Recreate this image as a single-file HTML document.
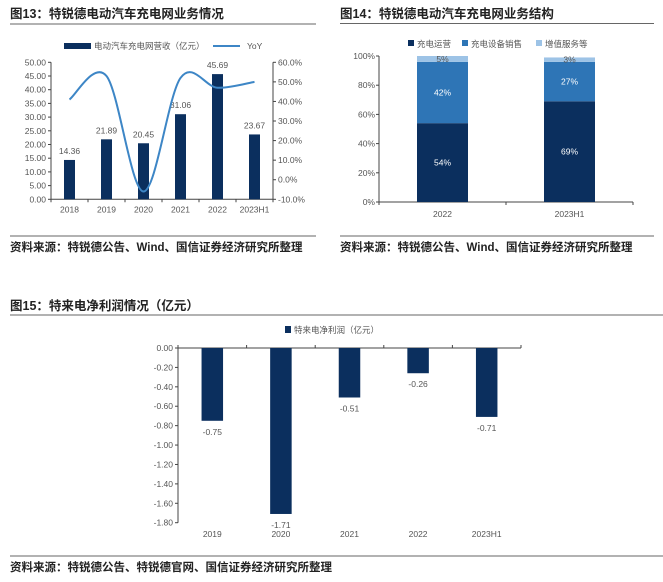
<!DOCTYPE html>
<html><head><meta charset="utf-8"><style>
body{margin:0;width:663px;height:582px;background:#fff;overflow:hidden}
svg{display:block;font-family:"Liberation Sans","Noto Sans CJK SC",sans-serif}
.t{font-weight:bold;font-size:12.5px;fill:#222}
.s{font-weight:bold;font-size:11.5px;fill:#222}
.ax{font-size:8.5px;fill:#555}
</style></head><body>
<svg width="663" height="582">
<g id="c1"></g>
<g id="c2"></g>
<g id="c3"></g>
</svg>
<script>
const NS="http://www.w3.org/2000/svg";
function mk(p,tag,a,txt){const e=document.createElementNS(NS,tag);for(const k in a)e.setAttribute(k,a[k]);if(txt!==undefined)e.textContent=txt;p.appendChild(e);return e;}
// Chart 1 data
const c1Cats=["2018","2019","2020","2021","2022","2023H1"];
const c1Rev=[14.36,21.89,20.45,31.06,45.69,23.67];
const c1Yoy=[41,53,-6,52,47,50];
const c1LeftTicks=["0.00","5.00","10.00","15.00","20.00","25.00","30.00","35.00","40.00","45.00","50.00"];
const c1RightTicks=["-10.0%","0.0%","10.0%","20.0%","30.0%","40.0%","50.0%","60.0%"];
// Chart 2 data
const c2Cats=["2022","2023H1"];
const c2Ops=[54,69];
const c2Equip=[42,27];
const c2Svc=[5,3];
const c2Ticks=["0%","20%","40%","60%","80%","100%"];
// Chart 3 data
const c3Cats=["2019","2020","2021","2022","2023H1"];
const c3Vals=[-0.75,-1.71,-0.51,-0.26,-0.71];
const c3Ticks=["0.00","-0.20","-0.40","-0.60","-0.80","-1.00","-1.20","-1.40","-1.60","-1.80"];
const NAVY="#0b2f5e";

// ---------- Chart 1
(function(){
const g=document.getElementById('c1');
let e=mk(g,'text',{x:10,y:18,class:'t'},'图13：特锐德电动汽车充电网业务情况');

mk(g,'line',{x1:10,y1:24,x2:316,y2:24,stroke:'#666','stroke-width':1});
mk(g,'rect',{x:64,y:43,width:27,height:6,fill:NAVY});
mk(g,'text',{x:94,y:49,class:'ax'},'电动汽车充电网营收（亿元）');
mk(g,'line',{x1:213,y1:46,x2:240,y2:46,stroke:'#3d86c6','stroke-width':2});
mk(g,'text',{x:247,y:49,class:'ax'},'YoY');
const L=51,R=273,T=62.3,B=199.3;
const y=v=>B-(v/50)*(B-T);
const yr=v=>B-((v+10)/70)*(B-T);
const step=(R-L)/c1Cats.length;
const x=i=>L+step*(i+0.5);
mk(g,'line',{x1:L,y1:T,x2:L,y2:B,stroke:'#444'});
mk(g,'line',{x1:R,y1:T,x2:R,y2:B,stroke:'#444'});
mk(g,'line',{x1:L,y1:B,x2:R,y2:B,stroke:'#444'});
c1LeftTicks.forEach((t,i)=>{const yy=y(i*5);mk(g,'line',{x1:L-3,y1:yy,x2:L,y2:yy,stroke:'#444'});mk(g,'text',{x:L-5,y:yy+3,class:'ax','text-anchor':'end'},t);});
c1RightTicks.forEach((t,i)=>{const yy=yr(-10+i*10);mk(g,'line',{x1:R,y1:yy,x2:R+3,y2:yy,stroke:'#444'});mk(g,'text',{x:R+5,y:yy+3,class:'ax'},t);});
for(let i=0;i<=c1Cats.length;i++){mk(g,'line',{x1:L+step*i,y1:B,x2:L+step*i,y2:B+3,stroke:'#444'});}
c1Cats.forEach((c,i)=>{
 const b=mk(g,'rect',{x:x(i)-5.5,y:y(c1Rev[i]),width:11,height:B-y(c1Rev[i]),fill:NAVY});
 
 mk(g,'text',{x:x(i),y:y(c1Rev[i])-6,class:'ax','text-anchor':'middle','font-size':'9.5'},c1Rev[i].toFixed(2));
 mk(g,'text',{x:x(i),y:B+13,class:'ax','text-anchor':'middle'},c);
});
let d='';const pts=c1Yoy.map((v,i)=>[x(i),yr(v)]);
d='M'+pts[0];
for(let i=0;i<pts.length-1;i++){const p0=pts[Math.max(0,i-1)],p1=pts[i],p2=pts[i+1],p3=pts[Math.min(pts.length-1,i+2)];
 const c1=[p1[0]+(p2[0]-p0[0])/6,p1[1]+(p2[1]-p0[1])/6],c2=[p2[0]-(p3[0]-p1[0])/6,p2[1]-(p3[1]-p1[1])/6];
 d+=' C'+c1+' '+c2+' '+p2;}
const ln=mk(g,'path',{d:d,fill:'none',stroke:'#3d86c6','stroke-width':2});

mk(g,'line',{x1:10,y1:236,x2:316,y2:236,stroke:'#666'});
mk(g,'text',{x:10,y:251,class:'s'},'资料来源：特锐德公告、Wind、国信证券经济研究所整理');
})();

// ---------- Chart 2
(function(){
const g=document.getElementById('c2');
let e=mk(g,'text',{x:340,y:18,class:'t'},'图14：特锐德电动汽车充电网业务结构');

mk(g,'line',{x1:340,y1:23.5,x2:654,y2:23.5,stroke:'#666'});
const cols=[NAVY,"#2e75b6","#9dc3e6"],names=["充电运营","充电设备销售","增值服务等"];
let lx=408;names.forEach((n,i)=>{mk(g,'rect',{x:lx,y:40,width:6,height:6,fill:cols[i]});mk(g,'text',{x:lx+9,y:47,class:'ax','font-size':'9.5'},n);lx+=n.length*10+14;});
const L=379,R=633,T=56,B=202;const y=v=>B-v/100*(B-T);
mk(g,'line',{x1:L,y1:T,x2:L,y2:B,stroke:'#444'});mk(g,'line',{x1:L,y1:B,x2:R,y2:B,stroke:'#444'});
c2Ticks.forEach((t,i)=>{const yy=y(i*20);mk(g,'line',{x1:L-3,y1:yy,x2:L,y2:yy,stroke:'#444'});mk(g,'text',{x:L-4,y:yy+3,class:'ax','text-anchor':'end'},t);});
const step=(R-L)/c2Cats.length;
for(let i=0;i<=c2Cats.length;i++)mk(g,'line',{x1:L+step*i,y1:B,x2:L+step*i,y2:B+3,stroke:'#444'});
c2Cats.forEach((c,i)=>{
 const cx=L+step*(i+0.5);let acc=0;
 [c2Ops[i],c2Equip[i],c2Svc[i]].forEach((v,k)=>{
  const top=Math.min(100,acc+v);
  const r=mk(g,'rect',{x:cx-25.5,y:y(top),width:51,height:y(acc)-y(top),fill:cols[k]});
  
  mk(g,'text',{x:cx,y:(y(acc)+y(top))/2+3,class:'ax','text-anchor':'middle',fill:k==2?'#444':'#fff',style:k==2?'':'fill:#fff'},v+'%');
  acc=top;});
 mk(g,'text',{x:cx,y:B+15,class:'ax','text-anchor':'middle'},c);
});
mk(g,'line',{x1:340,y1:236,x2:654,y2:236,stroke:'#666'});
mk(g,'text',{x:340,y:251,class:'s'},'资料来源：特锐德公告、Wind、国信证券经济研究所整理');
})();

// ---------- Chart 3
(function(){
const g=document.getElementById('c3');
let e=mk(g,'text',{x:10,y:310,class:'t'},'图15：特来电净利润情况（亿元）');

mk(g,'line',{x1:10,y1:315,x2:663,y2:315,stroke:'#666'});
mk(g,'rect',{x:285,y:326,width:6,height:7,fill:NAVY});
mk(g,'text',{x:294,y:333,class:'ax','font-size':'9.5'},'特来电净利润（亿元）');
const L=178,R=521,T=348,B=522.7;const y=v=>T+(-v/1.8)*(B-T);
mk(g,'line',{x1:L,y1:T,x2:L,y2:B,stroke:'#444'});mk(g,'line',{x1:L,y1:T,x2:R,y2:T,stroke:'#444'});
c3Ticks.forEach((t,i)=>{const yy=y(-i*0.2);mk(g,'line',{x1:L-3,y1:yy,x2:L,y2:yy,stroke:'#444'});mk(g,'text',{x:L-5,y:yy+3,class:'ax','text-anchor':'end'},t);});
const step=(R-L)/c3Cats.length;
for(let i=0;i<=c3Cats.length;i++)mk(g,'line',{x1:L+step*i,y1:T-3,x2:L+step*i,y2:T,stroke:'#444'});
c3Cats.forEach((c,i)=>{
 const cx=L+step*(i+0.5),v=c3Vals[i];
 const r=mk(g,'rect',{x:cx-10.75,y:T,width:21.5,height:y(v)-T,fill:NAVY});
 
 mk(g,'text',{x:cx,y:y(v)+14,class:'ax','text-anchor':'middle'},v.toFixed(2));
 mk(g,'text',{x:cx,y:537,class:'ax','text-anchor':'middle'},c);
});
mk(g,'line',{x1:10,y1:556,x2:663,y2:556,stroke:'#666'});
mk(g,'text',{x:10,y:571,class:'s'},'资料来源：特锐德公告、特锐德官网、国信证券经济研究所整理');
})();
</script>
</body></html>
